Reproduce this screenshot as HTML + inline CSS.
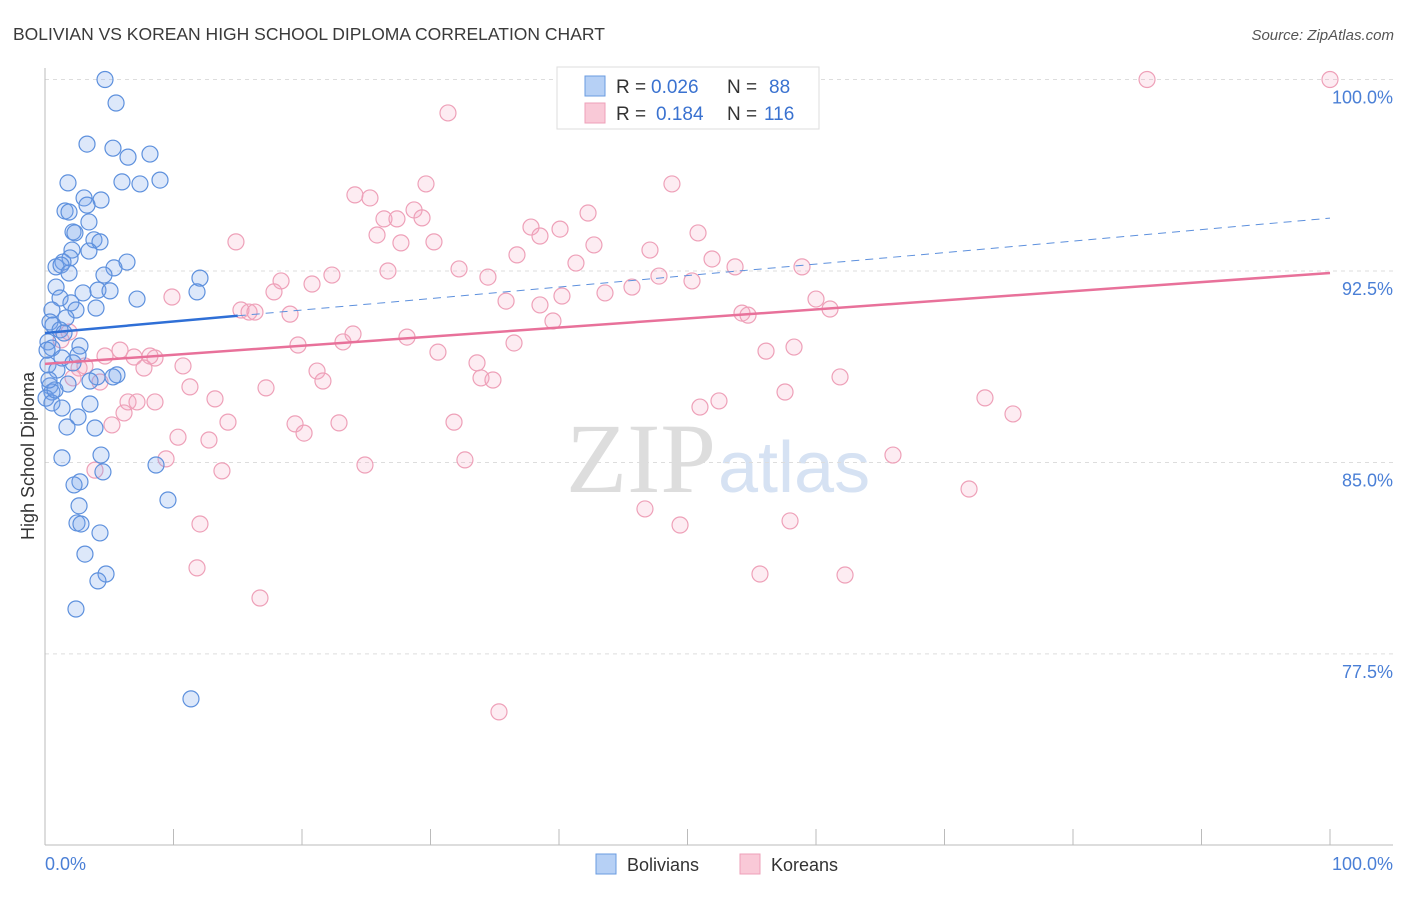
<!DOCTYPE html>
<html><head><meta charset="utf-8"><style>
body{margin:0;background:#fff;font-family:"Liberation Sans",sans-serif}
</style></head><body>
<svg width="1406" height="892" xmlns="http://www.w3.org/2000/svg" id="svg">
<text x="13" y="40" font-size="17.5" fill="#3a3a3a">BOLIVIAN VS KOREAN HIGH SCHOOL DIPLOMA CORRELATION CHART</text>
<text x="1394" y="40" font-size="15" fill="#555" font-style="italic" text-anchor="end">Source: ZipAtlas.com</text>
<text x="716" y="492" font-size="100" fill="#ddd" text-anchor="end" font-family="Liberation Serif,serif">ZIP</text>
<text x="718" y="492" font-size="72" fill="#d6e2f3">atlas</text>
<g id="grid"></g>
<g id="pts"></g>
<g id="trend"></g>
<text transform="translate(34,456) rotate(-90)" font-size="18" fill="#333" text-anchor="middle">High School Diploma</text>
<text x="45" y="870" font-size="18" fill="#4a7fd6">0.0%</text>
<text x="1393" y="870" font-size="18" fill="#4a7fd6" text-anchor="end">100.0%</text>
<g>
<rect x="557" y="67" width="262" height="62" fill="#fff" stroke="#ddd"/>
<rect x="585" y="76" width="20" height="20" fill="#b6d0f5" stroke="#6a9be0"/>
<rect x="585" y="103" width="20" height="20" fill="#f9c9d7" stroke="#eea0b8"/>
<text x="616" y="93" font-size="19" fill="#333">R =</text>
<text x="651" y="93" font-size="19" fill="#3a72d0">0.026</text>
<text x="727" y="93" font-size="19" fill="#333">N =</text>
<text x="769" y="93" font-size="19" fill="#3a72d0">88</text>
<text x="616" y="120" font-size="19" fill="#333">R =</text>
<text x="656" y="120" font-size="19" fill="#3a72d0">0.184</text>
<text x="727" y="120" font-size="19" fill="#333">N =</text>
<text x="764" y="120" font-size="19" fill="#3a72d0">116</text>
</g>
<g>
<rect x="596" y="854" width="20" height="20" fill="#b6d0f5" stroke="#6a9be0"/>
<text x="627" y="871" font-size="18" fill="#333">Bolivians</text>
<rect x="740" y="854" width="20" height="20" fill="#f9c9d7" stroke="#eea0b8"/>
<text x="771" y="871" font-size="18" fill="#333">Koreans</text>
</g>
</svg>
<script>
const yTicks=[100,92.5,85,77.5];
const yTickLabels=["100.0%","92.5%","85.0%","77.5%"];
const xTicks=[0,10,20,30,40,50,60,70,80,90,100];
const blueX=[4.67,5.53,3.27,5.29,6.46,8.17,1.79,5.99,7.39,8.95,3.04,4.36,1.56,1.87,3.27,3.42,2.18,2.33,3.81,4.28,2.10,3.42,1.95,1.40,0.86,1.25,6.38,5.37,1.87,4.59,12.06,0.86,2.96,4.12,5.06,11.83,1.17,7.16,2.02,3.97,2.41,0.54,1.63,0.39,0.62,1.17,1.48,0.23,2.72,0.54,2.57,1.32,2.18,0.23,0.93,4.05,5.60,3.50,1.79,5.29,0.39,0.54,0.08,0.54,1.32,3.50,2.57,1.71,3.89,1.32,4.36,4.51,8.64,2.72,2.26,9.57,2.65,2.49,2.80,4.28,3.11,4.75,4.12,2.41,11.36,0.16,0.78,0.31];
const blueY=[100,99.08,97.47,97.31,96.96,97.08,95.95,95.99,95.91,96.06,95.36,95.28,94.85,94.81,95.08,94.42,94.03,93.99,93.72,93.64,93.32,93.28,93.01,92.85,92.66,92.73,92.85,92.62,92.42,92.34,92.22,91.87,91.64,91.75,91.72,91.68,91.44,91.40,91.25,91.05,90.97,90.97,90.66,90.50,90.38,90.19,90.07,89.72,89.56,89.48,89.21,89.09,88.90,88.82,88.62,88.35,88.43,88.19,88.07,88.35,88.00,87.76,87.52,87.33,87.13,87.29,86.78,86.39,86.35,85.18,85.29,84.63,84.90,84.24,84.12,83.53,83.30,82.63,82.59,82.24,81.41,80.63,80.36,79.26,75.74,89.40,87.84,88.23];
const pinkX=[40.78,85.76,100,31.36,48.79,29.65,24.12,25.29,42.26,28.72,29.34,26.38,27.39,37.82,40.08,25.84,38.52,50.82,14.86,27.70,30.27,42.72,47.08,36.73,51.91,41.32,58.91,53.70,32.22,26.69,22.33,34.47,47.78,18.37,20.78,50.35,45.68,43.58,17.82,9.88,40.23,35.88,60.00,38.52,61.09,15.25,15.88,16.34,19.07,54.24,54.71,39.53,23.97,1.87,1.25,28.17,23.19,19.69,36.50,58.29,56.11,5.84,30.58,4.67,6.93,8.56,8.17,3.11,2.65,10.74,33.62,7.70,21.17,2.18,21.63,4.28,33.93,34.86,11.28,17.20,61.87,57.59,6.46,13.23,73.15,52.45,50.97,6.15,8.56,14.24,22.88,19.46,75.33,31.83,20.16,10.35,12.76,5.21,65.99,9.42,32.68,24.90,13.77,3.89,71.91,46.69,49.42,12.06,57.98,11.83,55.64,62.26,16.73,35.33,7.16];
const pinkY=[100,100,100,98.69,95.91,95.91,95.48,95.36,94.77,94.89,94.58,94.54,94.54,94.22,94.14,93.91,93.87,93.99,93.64,93.60,93.64,93.52,93.32,93.13,92.97,92.81,92.66,92.66,92.58,92.50,92.34,92.26,92.30,92.11,91.99,92.11,91.87,91.64,91.68,91.48,91.52,91.32,91.40,91.17,91.01,90.97,90.89,90.89,90.81,90.85,90.77,90.54,90.03,90.11,89.80,89.91,89.72,89.60,89.68,89.52,89.36,89.40,89.32,89.17,89.13,89.09,89.17,88.78,88.70,88.78,88.90,88.70,88.58,88.31,88.19,88.15,88.31,88.23,87.96,87.92,88.35,87.76,87.37,87.49,87.53,87.41,87.17,86.94,87.37,86.58,86.55,86.51,86.90,86.58,86.15,85.99,85.88,86.47,85.29,85.14,85.10,84.90,84.67,84.70,83.96,83.18,82.55,82.59,82.71,80.87,80.63,80.59,79.69,75.23,87.37];
const blueTrend=[90.07,94.57];
const pinkTrend=[88.86,92.42];
const NS="http://www.w3.org/2000/svg";
const X=v=>45+v*12.85;
const Y=v=>79.5+(100-v)*25.53;
function mk(t,a,p){const e=document.createElementNS(NS,t);for(const k in a)e.setAttribute(k,a[k]);p.appendChild(e);return e;}
const grid=document.getElementById('grid');
yTicks.forEach((t,i)=>{
 const l=mk('line',{x1:45,x2:1393,y1:Y(t),y2:Y(t),stroke:'#ddd','stroke-dasharray':'4,4'},grid);
 
 
 const tx=mk('text',{x:1393,y:Y(t)+24,'font-size':18,fill:'#4a7fd6','text-anchor':'end'},grid);
 tx.textContent=yTickLabels[i];
 
 
});
const ax=mk('line',{x1:45,x2:1393,y1:845,y2:845,stroke:'#bbb'},grid);


const ay=mk('line',{x1:45,x2:45,y1:68,y2:845,stroke:'#bbb'},grid);


xTicks.forEach(t=>{
 const l=mk('line',{x1:X(t),x2:X(t),y1:829,y2:845,stroke:'#bbb'},grid);
 
 
});
const pts=document.getElementById('pts');
pinkX.forEach((x,i)=>{
 const c=mk('circle',{cx:X(x),cy:Y(pinkY[i]),r:8,fill:'rgba(244,170,195,0.22)',stroke:'#eea0b8','stroke-width':1.2},pts);
 
 
});
blueX.forEach((x,i)=>{
 const c=mk('circle',{cx:X(x),cy:Y(blueY[i]),r:8,fill:'rgba(120,165,235,0.25)',stroke:'#5d90dd','stroke-width':1.2},pts);
 
 
});
const tr=document.getElementById('trend');
const bAt=v=>blueTrend[0]+(blueTrend[1]-blueTrend[0])*v/100;
const b1=mk('line',{x1:X(0),y1:Y(bAt(0)),x2:X(15),y2:Y(bAt(15)),stroke:'#2f6fd6','stroke-width':2.5},tr);


const b2=mk('line',{x1:X(15),y1:Y(bAt(15)),x2:X(100),y2:Y(bAt(100)),stroke:'#5d90dd','stroke-width':1,'stroke-dasharray':'8,6'},tr);


const p1=mk('line',{x1:X(0),y1:Y(pinkTrend[0]),x2:X(100),y2:Y(pinkTrend[1]),stroke:'#e8719a','stroke-width':2.5},tr);


</script>
</body></html>
